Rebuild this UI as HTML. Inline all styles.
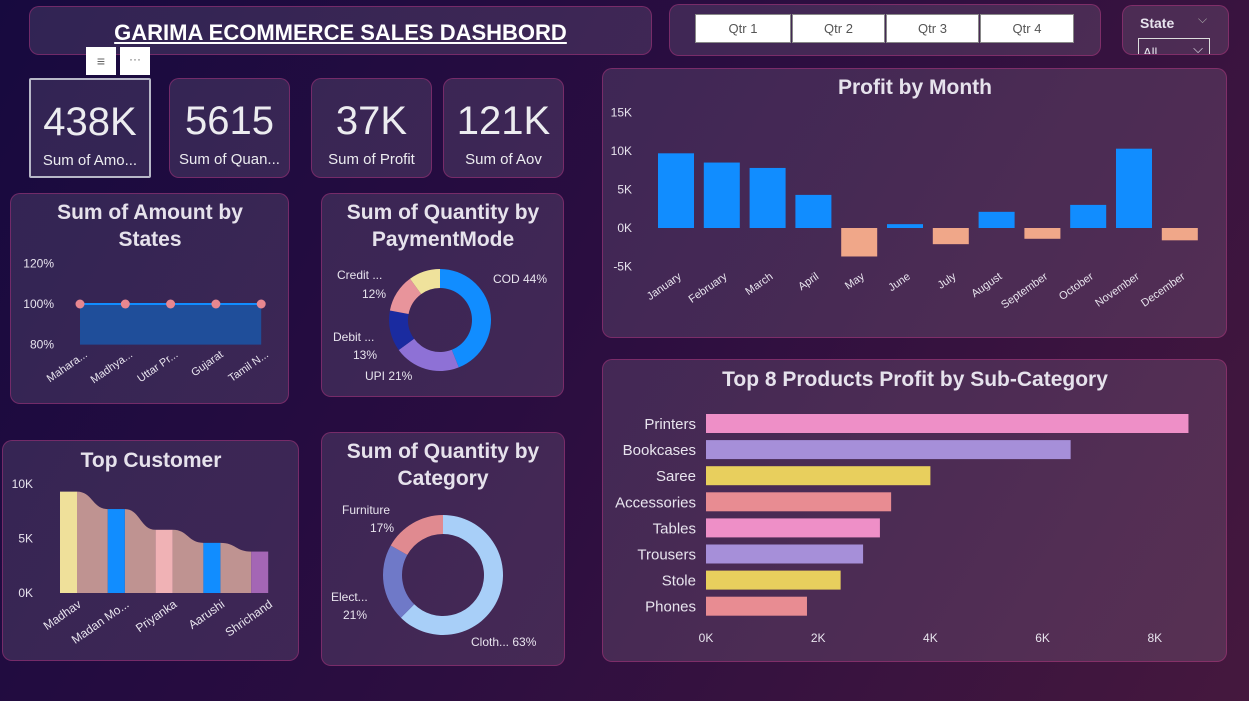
<!DOCTYPE html>
<html><head><meta charset="utf-8"><style>
body{margin:0;width:1249px;height:701px;overflow:hidden;background:linear-gradient(120deg,#170a3f 0%,#2a0d40 45%,#45183e 100%);font-family:"Liberation Sans",sans-serif;color:#e8e4ee;position:relative}
.card{position:absolute;background:rgba(255,255,255,0.11);border:1px solid rgba(190,50,130,0.45);border-radius:10px;box-sizing:border-box}
.kv{position:absolute;left:0;right:0;text-align:center;font-size:40px;top:20px;color:#ececf0}
.kl{position:absolute;left:0;right:0;text-align:center;font-size:15px;top:72px;color:#ececf0}
.qb{position:absolute;top:14px;height:29px;background:#fff;border:1px solid #888;box-sizing:border-box;color:#555;font-size:13px;text-align:center;line-height:27px}
svg{position:absolute;left:0;top:0}
</style></head><body>
<div class="card" style="left:29px;top:6px;width:623px;height:49px">
<div style="text-align:center;font-weight:bold;font-size:22px;text-decoration:underline;color:#fff;margin-top:13px">GARIMA ECOMMERCE SALES DASHBORD</div></div>
<div style="position:absolute;left:86px;top:47px;width:30px;height:28px;background:#fff;color:#666;text-align:center;font-size:14px;line-height:28px">≡</div>
<div style="position:absolute;left:120px;top:47px;width:30px;height:28px;background:#fff;color:#666;text-align:center;font-size:12px;line-height:24px">···</div>
<div class="card" style="left:29px;top:78px;width:122px;height:100px;border:2px solid #b8b8c8;border-radius:2px"><div class="kv">438K</div><div class="kl">Sum of Amo...</div></div>
<div class="card" style="left:169px;top:78px;width:121px;height:100px"><div class="kv">5615</div><div class="kl">Sum of Quan...</div></div>
<div class="card" style="left:311px;top:78px;width:121px;height:100px"><div class="kv">37K</div><div class="kl">Sum of Profit</div></div>
<div class="card" style="left:443px;top:78px;width:121px;height:100px"><div class="kv">121K</div><div class="kl">Sum of Aov</div></div>
<div class="card" style="left:669px;top:4px;width:432px;height:52px"></div>
<div class="qb" style="left:695px;width:96px">Qtr 1</div>
<div class="qb" style="left:792px;width:93px">Qtr 2</div>
<div class="qb" style="left:886px;width:93px">Qtr 3</div>
<div class="qb" style="left:980px;width:94px">Qtr 4</div>
<div class="card" style="left:1122px;top:5px;width:107px;height:50px;overflow:hidden">
<div style="position:absolute;left:17px;top:9px;font-size:14px;font-weight:bold">State</div>
<div style="position:absolute;left:75px;top:6px;font-size:12px;color:#aaa">⌵</div>
<div style="position:absolute;left:15px;top:32px;width:72px;height:30px;border:1px solid #ddd;font-size:13px;padding:6px 4px;box-sizing:border-box">All<span style="position:absolute;right:6px;top:2px">⌵</span></div></div>
<div class="card" style="left:602px;top:68px;width:625px;height:270px"></div>
<div class="card" style="left:10px;top:193px;width:279px;height:211px"></div>
<div class="card" style="left:321px;top:193px;width:243px;height:204px"></div>
<div class="card" style="left:2px;top:440px;width:297px;height:221px"></div>
<div class="card" style="left:321px;top:432px;width:244px;height:234px"></div>
<div class="card" style="left:602px;top:359px;width:625px;height:303px"></div>
<svg id="s" width="1249" height="701" font-family="Liberation Sans, sans-serif" fill="#e8e4ee"></svg>
<script>
const months=["January","February","March","April","May","June","July","August","September","October","November","December"];
const profit=[9.7,8.5,7.8,4.3,-3.7,0.5,-2.1,2.1,-1.4,3.0,10.3,-1.6];
const profitTicks=[15,10,5,0,-5];
const states=["Mahara...","Madhya...","Uttar Pr...","Gujarat","Tamil N..."];
const statePct=[100,100,100,100,100];
const stateTicks=[120,100,80];
const payLabels=["COD","UPI","Debit ...","Credit ...","Other"];
const payVals=[44,21,13,12,10];
const catLabels=["Cloth...","Elect...","Furniture"];
const catVals=[63,21,17];
const customers=["Madhav","Madan Mo...","Priyanka","Aarushi","Shrichand"];
const custVals=[9.3,7.7,5.8,4.6,3.8];
const custTicks=[10,5,0];
const products=["Printers","Bookcases","Saree","Accessories","Tables","Trousers","Stole","Phones"];
const prodVals=[8.6,6.5,4.0,3.3,3.1,2.8,2.4,1.8];
const prodTicks=[0,2,4,6,8];
const S=document.getElementById('s');const NS="http://www.w3.org/2000/svg";
function el(t,a,txt){const e=document.createElementNS(NS,t);for(const k in a)e.setAttribute(k,a[k]);if(txt!==undefined)e.textContent=txt;S.appendChild(e);return e;}
function title(x,y,t,n){const e=el('text',{x:x,y:y,'text-anchor':'middle','font-size':21,'font-weight':'bold',fill:'#e6e2ec'},t);

}
// Profit by month
title(915,94,"Profit by Month","profit-month-title");
const py=v=>228-v*7.7, px=i=>658+i*45.8;
profitTicks.forEach(t=>{const e=el('text',{x:632,y:py(t)+4,'font-size':12,'text-anchor':'end'},t+"K");

});
profit.forEach((v,i)=>{const r=el('rect',{x:px(i),y:Math.min(py(v),py(0)),width:36,height:Math.abs(py(v)-py(0)),fill:v>=0?'#118dff':'#f0a789'});


const t=el('text',{x:px(i)+24,y:278,'font-size':11,'text-anchor':'end',transform:`rotate(-35 ${px(i)+24} 278)`},months[i]);

});
// States
title(150,219,"Sum of Amount by","states-title");
title(150,246,"States","states-title-2");
const sy=v=>304-(v-100)*2.03, sx=i=>80+i*45.3;
stateTicks.forEach(t=>{const e=el('text',{x:54,y:sy(t)+4,'font-size':12,'text-anchor':'end'},t+"%");

});
let ap=`M${sx(0)},${sy(80)}`;statePct.forEach((v,i)=>ap+=`L${sx(i)},${sy(v)}`);ap+=`L${sx(states.length-1)},${sy(80)}Z`;
const ar=el('path',{d:ap,fill:'#1f4e9a'});


el('polyline',{points:statePct.map((v,i)=>sx(i)+","+sy(v)).join(" "),fill:'none',stroke:'#118dff','stroke-width':2});
statePct.forEach((v,i)=>{const c=el('circle',{cx:sx(i),cy:sy(v),r:4.5,fill:'#e8878f'});


const t=el('text',{x:sx(i)+8,y:356,'font-size':11,'text-anchor':'end',transform:`rotate(-35 ${sx(i)+8} 356)`},states[i]);

});
// Donut helper
function donut(cx,cy,R,r,vals,cols,name){const tot=vals.reduce((a,b)=>a+b,0);let a0=-Math.PI/2;
vals.forEach((v,i)=>{const a1=a0+v/tot*2*Math.PI,l=(a1-a0)>Math.PI?1:0;
const p=`M${cx+R*Math.cos(a0)},${cy+R*Math.sin(a0)}A${R},${R} 0 ${l} 1 ${cx+R*Math.cos(a1)},${cy+R*Math.sin(a1)}L${cx+r*Math.cos(a1)},${cy+r*Math.sin(a1)}A${r},${r} 0 ${l} 0 ${cx+r*Math.cos(a0)},${cy+r*Math.sin(a0)}Z`;
const e=el('path',{d:p,fill:cols[i]});

a0=a1;});}
title(443,219,"Sum of Quantity by","payment-title");
title(443,246,"PaymentMode","payment-title-2");
donut(440,320,51,32,payVals,['#118dff','#8e71d6','#1a2ba0','#e8949b','#efe29c'],'payment');
[["COD 44%",493,283,'start'],["Credit ...",337,279,'start'],["12%",362,298,'start'],["Debit ...",333,341,'start'],["13%",353,359,'start'],["UPI 21%",365,380,'start']].forEach(a=>{const e=el('text',{x:a[1],y:a[2],'font-size':12,'text-anchor':a[3]},a[0]);

});
title(443,458,"Sum of Quantity by","category-title");
title(443,485,"Category","category-title-2");
donut(443,575,60,41,catVals,['#a8cff8','#6f79c8','#e08a90'],'category');
[["Furniture",342,514],["17%",370,532],["Elect...",331,601],["21%",343,619],["Cloth... 63%",471,646]].forEach(a=>{const e=el('text',{x:a[1],y:a[2],'font-size':12},a[0]);

});
// Top customer
title(151,467,"Top Customer","customer-title");
const cy=v=>593-v*10.9, cx=i=>60+i*47.8;
custTicks.forEach(t=>{const e=el('text',{x:33,y:cy(t)+4,'font-size':12,'text-anchor':'end'},t+"K");

});
for(let i=0;i<custVals.length-1;i++){const x0=cx(i)+17,x1=cx(i+1),y0=cy(custVals[i]),y1=cy(custVals[i+1]),m=(x0+x1)/2;
const e=el('path',{d:`M${x0},${cy(0)}L${x0},${y0}C${m},${y0} ${m},${y1} ${x1},${y1}L${x1},${cy(0)}Z`,fill:'#bf9391'});

}
const ccols=['#efe09a','#118dff','#f0b2b5','#118dff','#a466b5'];
custVals.forEach((v,i)=>{const r=el('rect',{x:cx(i),y:cy(v),width:17,height:cy(0)-cy(v),fill:ccols[i]});


const t=el('text',{x:cx(i)+22,y:606,'font-size':12,'text-anchor':'end',transform:`rotate(-35 ${cx(i)+22} 606)`},customers[i]);

});
// Top products
title(915,386,"Top 8 Products Profit by Sub-Category","products-title");
const qx=v=>706+v*56.1, qy=i=>414+i*26.1;
const pcols=['#ee8fc7','#a68fd9','#e8cf5d','#e88c92','#ee8fc7','#a68fd9','#e8cf5d','#e88c92'];
products.forEach((p,i)=>{const r=el('rect',{x:qx(0),y:qy(i),width:qx(prodVals[i])-qx(0),height:19,fill:pcols[i]});


const t=el('text',{x:696,y:qy(i)+15,'font-size':15,'text-anchor':'end'},p);

});
prodTicks.forEach(t=>{const e=el('text',{x:qx(t),y:642,'font-size':12,'text-anchor':'middle'},t+"K");

});
</script>
</body></html>
